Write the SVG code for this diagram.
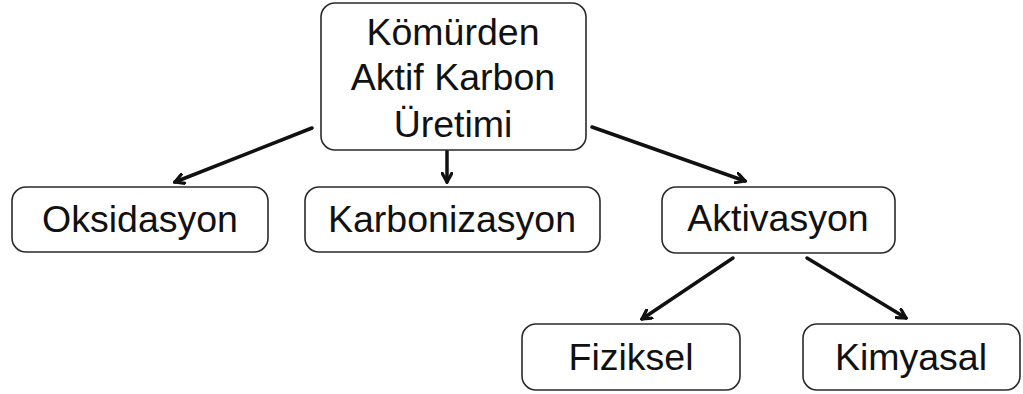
<svg xmlns="http://www.w3.org/2000/svg" width="1023" height="394" viewBox="0 0 1023 394">
<style>
.box{fill:#fff;stroke:#2a2a2a;stroke-width:1.6}
.t{font-family:"Liberation Sans",Arial,sans-serif;font-size:37.5px;fill:#111;text-anchor:middle}
.c{stroke:#111;stroke-width:3.5;fill:none;stroke-linecap:round}
</style>
<defs>
<marker id="ah" viewBox="0 0 12 12" refX="10" refY="6" markerWidth="12" markerHeight="12" markerUnits="userSpaceOnUse" orient="auto">
<path d="M1,1 L10,6 L1,11" fill="none" stroke="#111" stroke-width="3.2" stroke-linejoin="miter" stroke-linecap="round"/>
</marker>
</defs>
<rect width="1023" height="394" fill="#fff"/>
<g id="connectors">
<line class="c" x1="312" y1="128" x2="175" y2="182" marker-end="url(#ah)"/>
<line class="c" x1="447" y1="151" x2="447" y2="182" marker-end="url(#ah)"/>
<line class="c" x1="592" y1="127" x2="745" y2="181" marker-end="url(#ah)"/>
<line class="c" x1="733" y1="258" x2="642" y2="319" marker-end="url(#ah)"/>
<line class="c" x1="807" y1="258" x2="906" y2="318" marker-end="url(#ah)"/>
</g>
<g id="root">
<rect class="box" x="321" y="3" width="265" height="147" rx="14"/>
<text class="t" x="453" y="45">Kömürden</text>
<text class="t" x="453" y="90">Aktif Karbon</text>
<text class="t" x="453" y="137">Üretimi</text>
</g>
<g id="oksidasyon">
<rect class="box" x="12" y="187" width="256" height="65" rx="14"/>
<text class="t" x="140" y="232">Oksidasyon</text>
</g>
<g id="karbonizasyon">
<rect class="box" x="305" y="187" width="295" height="65" rx="14"/>
<text class="t" x="452" y="232">Karbonizasyon</text>
</g>
<g id="aktivasyon">
<rect class="box" x="662" y="187" width="233" height="66" rx="14"/>
<text class="t" x="778" y="231">Aktivasyon</text>
</g>
<g id="fiziksel">
<rect class="box" x="522" y="324" width="218" height="66" rx="14"/>
<text class="t" x="631" y="370">Fiziksel</text>
</g>
<g id="kimyasal">
<rect class="box" x="803" y="324" width="217" height="66" rx="14"/>
<text class="t" x="911" y="370">Kimyasal</text>
</g>
</svg>
